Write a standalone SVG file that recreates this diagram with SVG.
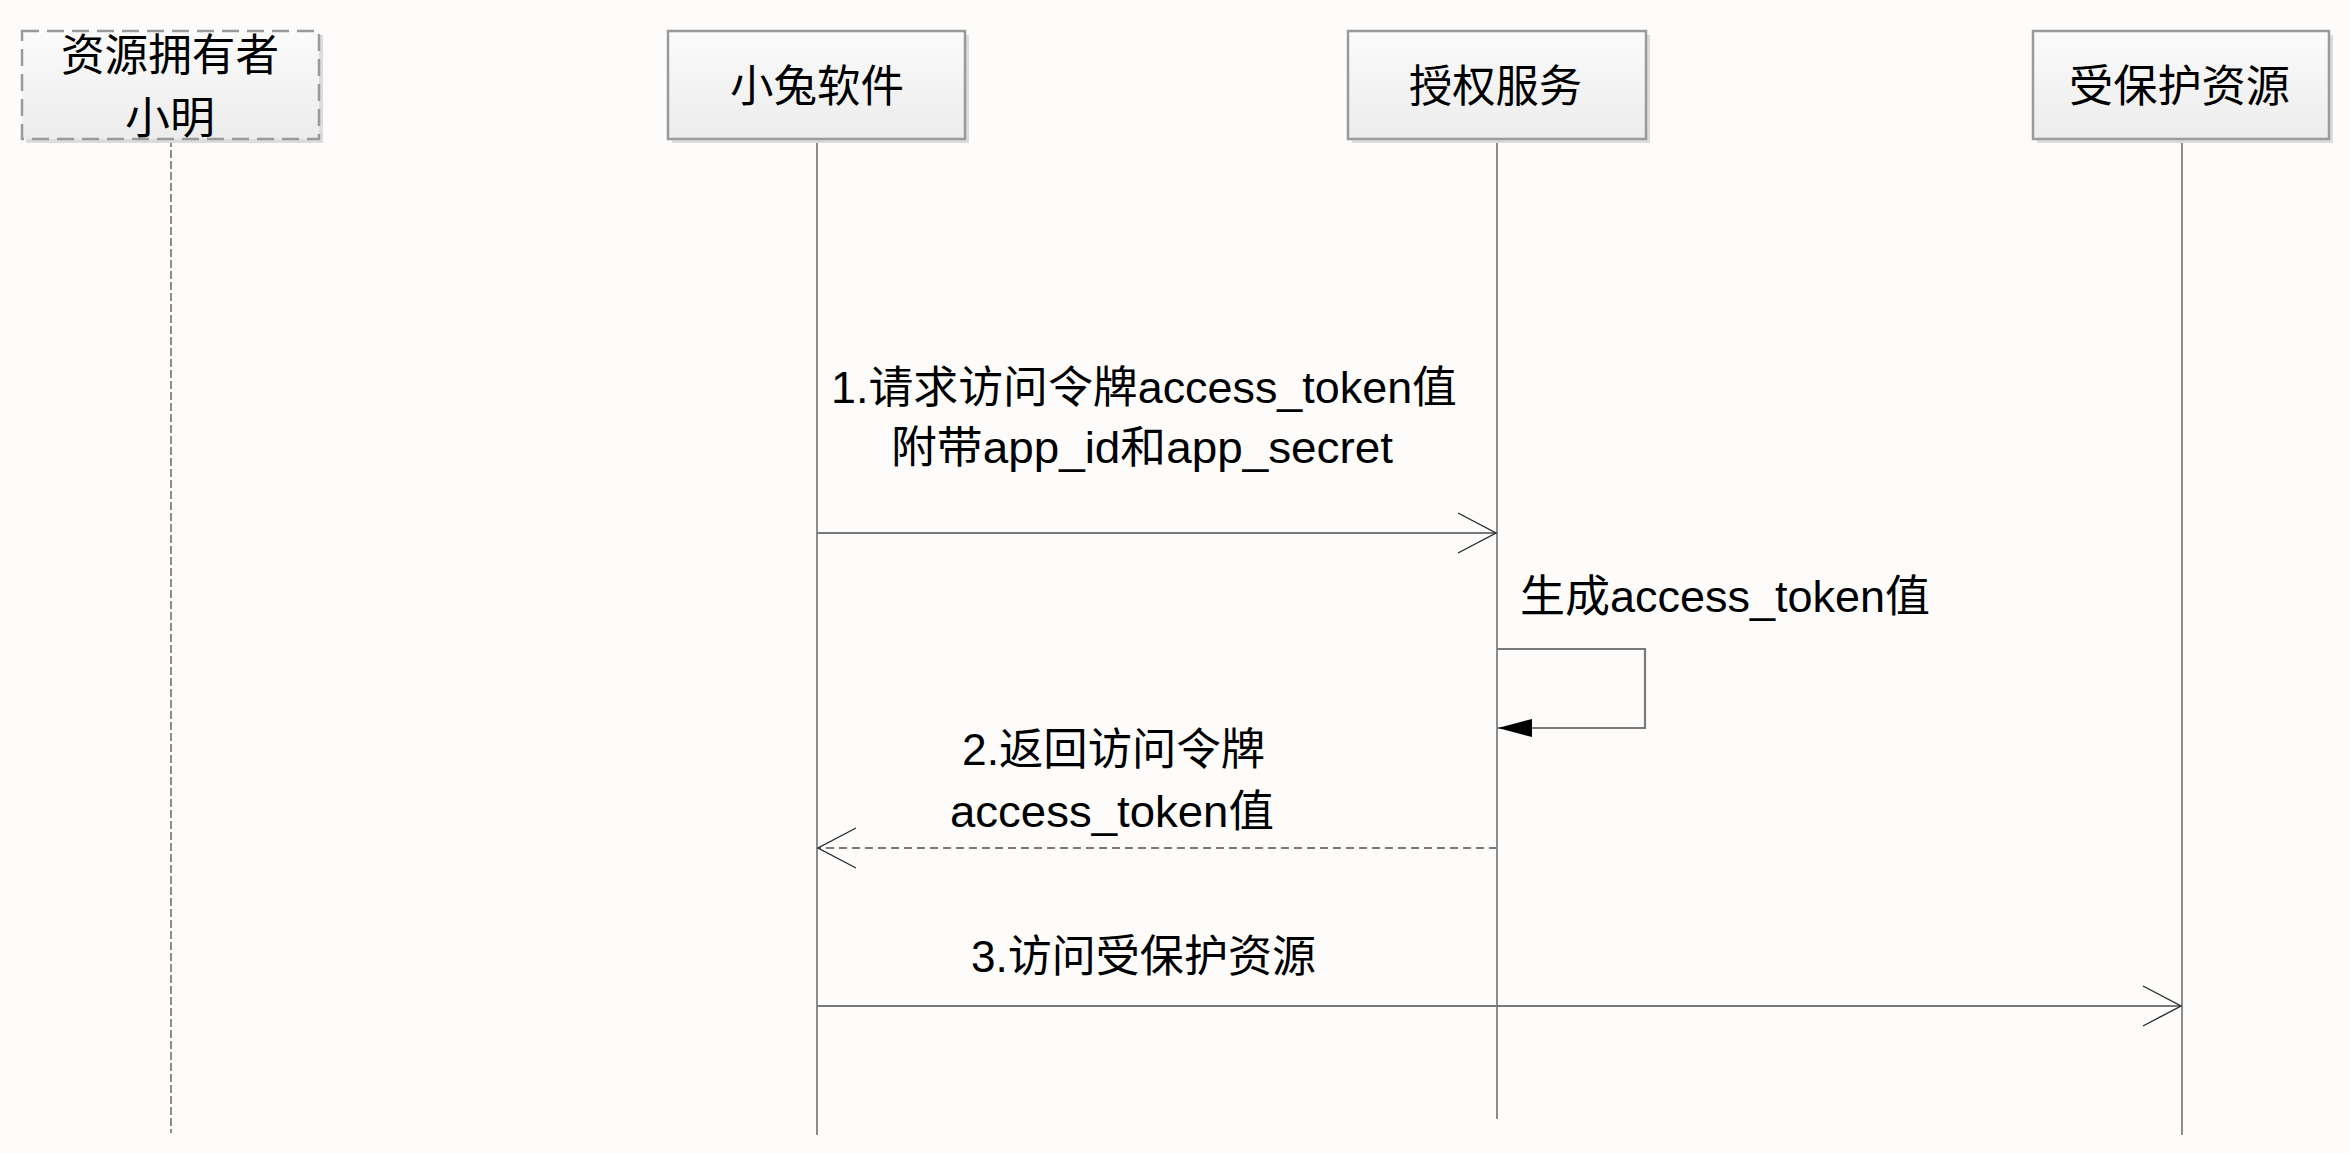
<svg xmlns="http://www.w3.org/2000/svg" width="2350" height="1153" viewBox="0 0 2350 1153">
<style>
  .lbl { font-family: "Liberation Sans", "Noto Sans CJK SC", sans-serif; font-size: 44px; fill: #000; }
  .box { fill: url(#boxfill); stroke: #9a9a9a; stroke-width: 2.5; }
  .shadow { fill: #dcdcdc; }
  .life { stroke: #8c8c8c; stroke-width: 2; fill: none; }
  .msg { stroke: #7a7a7a; stroke-width: 2.2; fill: none; }
</style>
<defs>
  <linearGradient id="boxfill" x1="0" y1="0" x2="0" y2="1">
    <stop offset="0" stop-color="#fbfbfb"/>
    <stop offset="1" stop-color="#ececec"/>
  </linearGradient>
  <marker id="open" markerUnits="userSpaceOnUse" markerWidth="42" markerHeight="44" refX="39" refY="21" orient="auto" overflow="visible">
    <path d="M1,1 L39,21 L1,41" fill="none" stroke="#2a2a2a" stroke-width="1.4" stroke-dasharray="none"/>
  </marker>
  <marker id="filled" markerUnits="userSpaceOnUse" markerWidth="36" markerHeight="20" refX="34" refY="9" orient="auto" overflow="visible">
    <path d="M0,0 L34,9 L0,18 Z" fill="#000" stroke="none"/>
  </marker>
</defs>
<rect width="2350" height="1153" fill="#fdfcfb"/>

<g id="lifelines">
  <line class="life" x1="171" y1="139" x2="171" y2="1133" stroke-dasharray="8 3"/>
  <line class="life" x1="817" y1="139" x2="817" y2="1135"/>
  <line class="life" x1="1497" y1="139" x2="1497" y2="1119"/>
  <line class="life" x1="2182" y1="139" x2="2182" y2="1135"/>
</g>

<g id="node-owner">
  <rect class="shadow" x="26" y="35" width="297" height="108"/>
  <rect class="box" x="22" y="31" width="297" height="108" stroke-dasharray="17 8"/>
  <text class="lbl" x="61" y="71" textLength="218" lengthAdjust="spacingAndGlyphs">资源拥有者</text>
  <text class="lbl" x="125" y="134" textLength="90" lengthAdjust="spacingAndGlyphs">小明</text>
</g>

<g id="node-app">
  <rect class="shadow" x="672" y="35" width="297" height="108"/>
  <rect class="box" x="668" y="31" width="297" height="108"/>
  <text class="lbl" x="730" y="102" textLength="174" lengthAdjust="spacingAndGlyphs">小兔软件</text>
</g>

<g id="node-auth">
  <rect class="shadow" x="1352" y="35" width="298" height="108"/>
  <rect class="box" x="1348" y="31" width="298" height="108"/>
  <text class="lbl" x="1409" y="102" textLength="173" lengthAdjust="spacingAndGlyphs">授权服务</text>
</g>

<g id="node-resource">
  <rect class="shadow" x="2037" y="35" width="296" height="108"/>
  <rect class="box" x="2033" y="31" width="296" height="108"/>
  <text class="lbl" x="2069" y="102" textLength="221" lengthAdjust="spacingAndGlyphs">受保护资源</text>
</g>

<g id="connectors">
  <line class="msg" x1="817" y1="533" x2="1496" y2="533" marker-end="url(#open)"/>
  <path class="msg" d="M1497,649 H1645 V728 H1498" marker-end="url(#filled)"/>
  <line class="msg" x1="1497" y1="848" x2="818" y2="848" stroke-dasharray="8 5" marker-end="url(#open)"/>
  <line class="msg" x1="817" y1="1006" x2="2181" y2="1006" marker-end="url(#open)"/>
</g>

<g id="labels">
  <text class="lbl" x="831" y="403" textLength="626" lengthAdjust="spacingAndGlyphs">1.请求访问令牌access_token值</text>
  <text class="lbl" x="891" y="463" textLength="502" lengthAdjust="spacingAndGlyphs">附带app_id和app_secret</text>
  <text class="lbl" x="1520" y="612" textLength="410" lengthAdjust="spacingAndGlyphs">生成access_token值</text>
  <text class="lbl" x="962" y="765" textLength="303" lengthAdjust="spacingAndGlyphs">2.返回访问令牌</text>
  <text class="lbl" x="950" y="827" textLength="324" lengthAdjust="spacingAndGlyphs">access_token值</text>
  <text class="lbl" x="971" y="972" textLength="345" lengthAdjust="spacingAndGlyphs">3.访问受保护资源</text>
</g>
</svg>
